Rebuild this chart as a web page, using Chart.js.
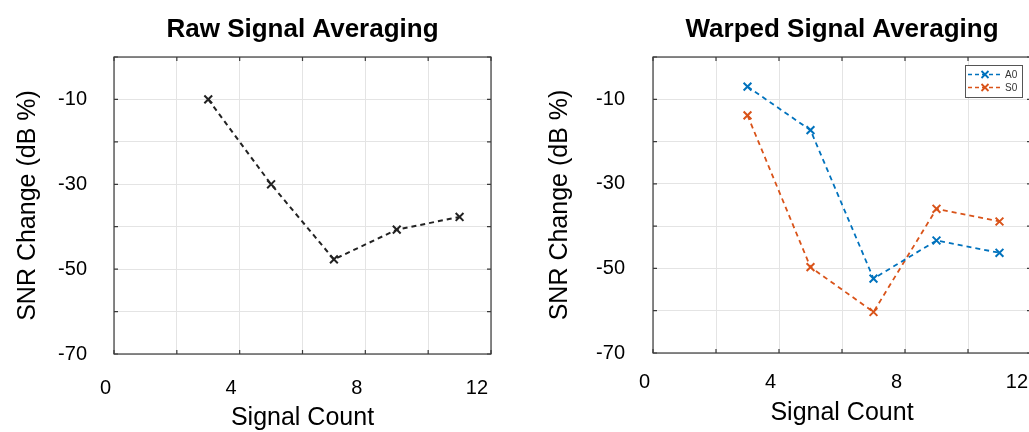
<!DOCTYPE html>
<html>
<head>
<meta charset="utf-8">
<script src="https://cdn.jsdelivr.net/npm/chart.js@4.4.1/dist/chart.umd.min.js"></script>
<style>
  html, body { margin: 0; padding: 0; background: #fff; overflow: hidden; }
  #wrap { position: relative; width: 1029px; height: 432px; overflow: hidden; }
  canvas { position: absolute; top: 0; }
</style>
</head>
<body>
<div id="wrap">
  <canvas id="rawChart" width="515" height="432" style="left:0"></canvas>
  <canvas id="warpChart" width="530" height="432" style="left:515px"></canvas>
</div>
<script>
// values
var signalCount = [3, 5, 7, 9, 11];
var rawSnr = [-10, -30, -47.7, -40.7, -37.7];
var warpedA0 = [-7.0, -17.3, -52.4, -43.4, -46.3];
var warpedS0 = [-13.8, -49.7, -60.3, -35.9, -38.9];
var xTickLabels = [0, 4, 8, 12];
var yTickLabels = [-10, -30, -50, -70];

var FONT = '"Liberation Sans", Arial, Helvetica, sans-serif';
Chart.defaults.font.family = FONT;
Chart.defaults.color = '#000';

function toPoints(ys) {
  return signalCount.map(function (x, i) { return { x: x, y: ys[i] }; });
}

// box, inward ticks and a title centred over the plot area (MATLAB look)
var axesFrame = {
  id: 'axesFrame',
  beforeDatasetsDraw: function (chart) {
    var a = chart.chartArea, ctx = chart.ctx;
    var xs = chart.scales.x, ys = chart.scales.y;
    ctx.save();
    ctx.strokeStyle = '#3a3a3a';
    ctx.lineWidth = 1.2;
    ctx.strokeRect(a.left, a.top, a.right - a.left, a.bottom - a.top);
    ctx.beginPath();
    xs.ticks.forEach(function (t) {
      var px = xs.getPixelForValue(t.value);
      ctx.moveTo(px, a.bottom); ctx.lineTo(px, a.bottom - 4);
      ctx.moveTo(px, a.top); ctx.lineTo(px, a.top + 4);
    });
    ys.ticks.forEach(function (t) {
      var py = ys.getPixelForValue(t.value);
      ctx.moveTo(a.left, py); ctx.lineTo(a.left + 4, py);
      ctx.moveTo(a.right, py); ctx.lineTo(a.right - 4, py);
    });
    ctx.stroke();
    ctx.restore();
  },
  afterDraw: function (chart, args, opts) {
    var a = chart.chartArea, ctx = chart.ctx;
    ctx.save();
    ctx.font = 'bold 26px ' + FONT;
    ctx.fillStyle = '#000';
    ctx.textAlign = 'center';
    ctx.textBaseline = 'alphabetic';
    ctx.fillText(opts.text, (a.left + a.right) / 2, 37);
    ctx.restore();
  }
};

// small boxed legend in the top right corner of the plot
var insetLegend = {
  id: 'insetLegend',
  afterDraw: function (chart, args, opts) {
    if (!opts.show) return;
    var a = chart.chartArea, ctx = chart.ctx;
    var sets = chart.data.datasets;
    var w = 57, rowH = 13, h = sets.length * rowH + 6;
    var x0 = a.right - 9 - w, y0 = a.top + 8;
    ctx.save();
    ctx.fillStyle = '#fff';
    ctx.fillRect(x0, y0, w, h);
    ctx.strokeStyle = '#555';
    ctx.lineWidth = 1;
    ctx.strokeRect(x0 + 0.5, y0 + 0.5, w, h);
    sets.forEach(function (ds, i) {
      var cy = y0 + 3 + rowH * i + rowH / 2;
      ctx.strokeStyle = ds.borderColor;
      ctx.lineWidth = 1.5;
      ctx.setLineDash([4, 3]);
      ctx.beginPath();
      ctx.moveTo(x0 + 3, cy); ctx.lineTo(x0 + 36, cy);
      ctx.stroke();
      ctx.setLineDash([]);
      var mx = x0 + 20, r = 3.5;
      ctx.lineWidth = 1.8;
      ctx.beginPath();
      ctx.moveTo(mx - r, cy - r); ctx.lineTo(mx + r, cy + r);
      ctx.moveTo(mx - r, cy + r); ctx.lineTo(mx + r, cy - r);
      ctx.stroke();
      ctx.fillStyle = '#333';
      ctx.font = '10px ' + FONT;
      ctx.textAlign = 'left';
      ctx.textBaseline = 'middle';
      ctx.fillText(ds.label, x0 + 40, cy + 0.5);
    });
    ctx.restore();
  }
};

function makeOptions(c) {
  return {
    responsive: false,
    animation: false,
    layout: { padding: { top: 57, right: c.padRight, left: 0, bottom: 0 } },
    plugins: {
      legend: { display: false },
      tooltip: { enabled: false },
      axesFrame: { text: c.title },
      insetLegend: { show: c.legend }
    },
    scales: {
      x: {
        type: 'linear',
        min: 0, max: 12,
        afterFit: function (s) {
          s.height = c.xHeight;
          s.paddingLeft = 0;
          s.paddingRight = 0;
        },
        border: { display: false },
        grid: { color: '#e4e4e4', drawTicks: false },
        ticks: {
          stepSize: 2, padding: c.xTickPad, labelOffset: -3, align: 'end',
          maxRotation: 0, autoSkip: false,
          font: { size: 20 },
          callback: function (v) { return xTickLabels.indexOf(v) >= 0 ? String(v) : ''; }
        },
        title: {
          display: true, text: 'Signal Count',
          font: { size: 25, lineHeight: 1.1 },
          padding: { top: 0, bottom: c.xTitlePad }
        }
      },
      y: {
        min: -70, max: 0,
        afterFit: function (s) { s.width = c.yWidth; },
        border: { display: false },
        grid: { color: '#e4e4e4', drawTicks: false },
        ticks: {
          stepSize: 10, padding: c.yTickPad, autoSkip: false,
          font: { size: 20 },
          callback: function (v) { return yTickLabels.indexOf(v) >= 0 ? String(v) : ''; }
        },
        title: {
          display: true, text: 'SNR Change (dB %)',
          font: { size: 25 },
          padding: { top: c.yTitlePad, bottom: 0 }
        }
      }
    }
  };
}

function lineSet(label, ys, color, width) {
  return {
    label: label,
    data: toPoints(ys),
    borderColor: color,
    backgroundColor: color,
    borderWidth: width,
    borderDash: [5, 4],
    pointStyle: 'crossRot',
    pointRadius: 5.5,
    pointBorderWidth: 2,
    pointHoverRadius: 5.5,
    fill: false,
    tension: 0
  };
}

new Chart(document.getElementById('rawChart'), {
  type: 'line',
  data: { datasets: [lineSet('Raw', rawSnr, '#222222', 2)] },
  options: makeOptions({
    title: 'Raw Signal Averaging', legend: false,
    padRight: 24, yWidth: 114, xHeight: 78,
    xTickPad: 22, xTitlePad: 0, yTickPad: 27, yTitlePad: 13
  }),
  plugins: [axesFrame, insetLegend]
});

new Chart(document.getElementById('warpChart'), {
  type: 'line',
  data: {
    datasets: [
      lineSet('A0', warpedA0, '#0072BD', 1.8),
      lineSet('S0', warpedS0, '#D95319', 1.8)
    ]
  },
  options: makeOptions({
    title: 'Warped Signal Averaging', legend: true,
    padRight: 14, yWidth: 138, xHeight: 79,
    xTickPad: 17, xTitlePad: 5, yTickPad: 28, yTitlePad: 30
  }),
  plugins: [axesFrame, insetLegend]
});
</script>
</body>
</html>
